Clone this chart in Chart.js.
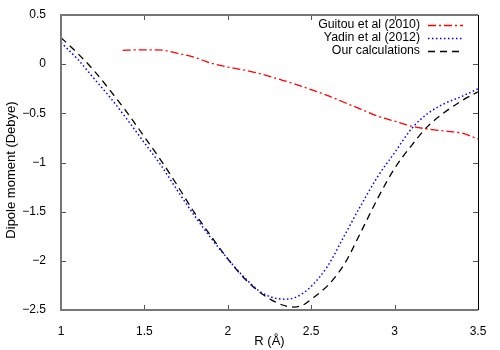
<!DOCTYPE html>
<html>
<head>
<meta charset="utf-8">
<script src="https://cdn.jsdelivr.net/npm/chart.js@4"></script>
<style>
  html, body { margin: 0; padding: 0; background: #fff; }
  #wrap { width: 500px; height: 350px; }
</style>
</head>
<body>
<div id="wrap"><canvas id="dipoleChart" width="500" height="350"></canvas></div>
<script>
// R values (Angstrom) and dipole moments (Debye)
const rGuitou = [1.37, 1.45, 1.55, 1.62, 1.7, 1.8, 1.9, 2.0, 2.1, 2.2, 2.3, 2.4, 2.5, 2.6, 2.7, 2.8, 2.9, 3.0, 3.1, 3.2, 3.3, 3.4, 3.5];
const dGuitou = [0.14, 0.145, 0.145, 0.14, 0.11, 0.07, 0.01, -0.03, -0.06, -0.10, -0.15, -0.20, -0.26, -0.32, -0.39, -0.46, -0.53, -0.58, -0.63, -0.66, -0.68, -0.70, -0.76];

const rYadin = [1.0, 1.1, 1.2, 1.3, 1.4, 1.5, 1.6, 1.7, 1.8, 1.9, 2.0, 2.1, 2.2, 2.3, 2.35, 2.4, 2.45, 2.5, 2.6, 2.7, 2.8, 2.9, 3.0, 3.1, 3.2, 3.3, 3.4, 3.5];
const dYadin = [0.22, 0.05, -0.15, -0.35, -0.57, -0.80, -1.03, -1.29, -1.54, -1.77, -1.98, -2.17, -2.32, -2.385, -2.39, -2.375, -2.33, -2.26, -2.05, -1.74, -1.43, -1.14, -0.90, -0.66, -0.50, -0.40, -0.33, -0.25];

const rOurs = [1.0, 1.1, 1.2, 1.3, 1.4, 1.5, 1.6, 1.7, 1.8, 1.9, 2.0, 2.1, 2.2, 2.3, 2.35, 2.4, 2.45, 2.5, 2.6, 2.7, 2.8, 2.9, 3.0, 3.1, 3.2, 3.3, 3.4, 3.5];
const dOurs = [0.27, 0.11, -0.07, -0.28, -0.50, -0.74, -0.98, -1.24, -1.51, -1.75, -1.98, -2.18, -2.33, -2.43, -2.46, -2.47, -2.45, -2.39, -2.25, -2.03, -1.70, -1.36, -1.06, -0.83, -0.63, -0.49, -0.375, -0.28];

const xTicks = [1, 1.5, 2, 2.5, 3, 3.5];
const yTicks = [0.5, 0, -0.5, -1, -1.5, -2, -2.5];
const yTitle = 'Dipole moment (Debye)';

const FONT = 'Liberation Sans, Arial, Helvetica, sans-serif';
Chart.defaults.font.family = FONT;
Chart.defaults.font.size = 12;
Chart.defaults.color = '#000';

const toPoints = (xs, ys) => xs.map((x, i) => ({ x: x, y: ys[i] }));
const fmt = v => String(v).replace('-', '\u2212');

// gnuplot-style frame, inward ticks, y title and legend
const framePlugin = {
  id: 'frame',
  afterDatasetsDraw(chart) {
    const { ctx, chartArea: a, scales } = chart;
    ctx.save();
    ctx.strokeStyle = '#555';
    ctx.lineWidth = 1;
    ctx.beginPath();
    xTicks.forEach(v => {
      const px = Math.round(scales.x.getPixelForValue(v)) + 0.5;
      ctx.moveTo(px, a.bottom); ctx.lineTo(px, a.bottom - 5);
      ctx.moveTo(px, a.top); ctx.lineTo(px, a.top + 5);
    });
    yTicks.forEach(v => {
      const py = Math.round(scales.y.getPixelForValue(v)) + 0.5;
      ctx.moveTo(a.left, py); ctx.lineTo(a.left + 5, py);
      ctx.moveTo(a.right, py); ctx.lineTo(a.right - 5, py);
    });
    ctx.stroke();

    ctx.strokeStyle = '#777';
    ctx.lineWidth = 2;
    ctx.beginPath();
    ctx.moveTo(a.right, a.top); ctx.lineTo(a.left, a.top);
    ctx.lineTo(a.left, a.bottom); ctx.lineTo(a.right, a.bottom);
    ctx.stroke();
    ctx.strokeStyle = '#000';
    ctx.lineWidth = 1;
    ctx.beginPath();
    ctx.moveTo(a.right + 0.5, a.top); ctx.lineTo(a.right + 0.5, a.bottom);
    ctx.stroke();

    // y axis title
    ctx.fillStyle = '#000';
    ctx.font = '13px ' + FONT;
    ctx.textAlign = 'center';
    ctx.textBaseline = 'middle';
    ctx.translate(11, 170);
    ctx.rotate(-Math.PI / 2);
    ctx.fillText(yTitle, 0, 0);
    ctx.setTransform(1, 0, 0, 1, 0, 0);

    // legend, text right-aligned with a line sample on its right
    ctx.font = '12.3px ' + FONT;
    ctx.textAlign = 'right';
    chart.data.datasets.forEach((ds, i) => {
      const y = 25 + i * 13;
      ctx.fillStyle = '#000';
      ctx.fillText(ds.label, 420, y);
      ctx.strokeStyle = ds.borderColor;
      ctx.lineWidth = ds.borderWidth;
      ctx.setLineDash(ds.borderDash);
      ctx.beginPath();
      ctx.moveTo(428, y + 0.5); ctx.lineTo(463, y + 0.5);
      ctx.stroke();
    });
    ctx.restore();
  }
};

const ctx = document.getElementById('dipoleChart').getContext('2d');

new Chart(ctx, {
  type: 'scatter',
  data: {
    datasets: [
      {
        label: 'Guitou et al (2010)',
        data: toPoints(rGuitou, dGuitou),
        borderColor: '#ff0000',
        borderWidth: 1.3,
        borderDash: [8, 3, 2, 3],
        showLine: true,
        pointRadius: 0,
        cubicInterpolationMode: 'monotone'
      },
      {
        label: 'Yadin et al (2012)',
        data: toPoints(rYadin, dYadin),
        borderColor: '#0000ff',
        borderWidth: 1.5,
        borderDash: [1.5, 2.5],
        showLine: true,
        pointRadius: 0,
        cubicInterpolationMode: 'monotone'
      },
      {
        label: 'Our calculations',
        data: toPoints(rOurs, dOurs),
        borderColor: '#000000',
        borderWidth: 1.3,
        borderDash: [7, 5],
        showLine: true,
        pointRadius: 0,
        cubicInterpolationMode: 'monotone'
      }
    ]
  },
  options: {
    responsive: false,
    animation: false,
    layout: { padding: { top: 15, right: 22, left: 0, bottom: 0 } },
    plugins: {
      legend: { display: false },
      tooltip: { enabled: false }
    },
    scales: {
      x: {
        type: 'linear',
        min: 1,
        max: 3.5,
        border: { display: false },
        grid: { display: false },
        afterBuildTicks: s => { s.ticks = xTicks.map(v => ({ value: v })); },
        afterFit: s => { s.height = 40; },
        ticks: { padding: 6, callback: v => fmt(v) },
        title: { display: true, text: 'R (Å)', font: { size: 13 }, padding: { top: 4, bottom: 1 } }
      },
      y: {
        type: 'linear',
        min: -2.5,
        max: 0.5,
        border: { display: false },
        grid: { display: false },
        afterBuildTicks: s => { s.ticks = yTicks.map(v => ({ value: v })); },
        afterFit: s => { s.width = 61; },
        ticks: { padding: 7, callback: v => fmt(v) }
      }
    }
  },
  plugins: [framePlugin]
});
</script>
</body>
</html>
